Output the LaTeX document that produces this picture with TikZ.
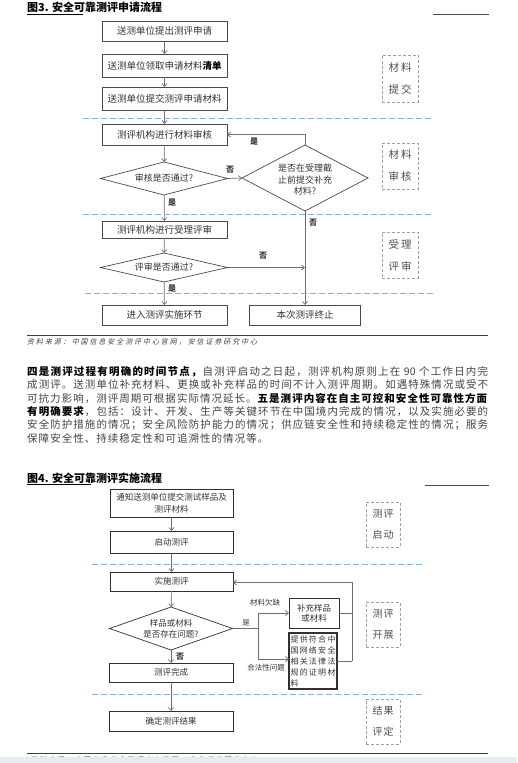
\documentclass[tikz,border=0pt]{standalone}
\usepackage{fontspec}
\setmainfont{Noto Sans CJK SC}
\newfontfamily\srcfont[FakeSlant=0.2]{Noto Sans CJK SC}
\usetikzlibrary{arrows.meta,shapes.geometric}
\definecolor{boxc}{HTML}{4A4A4A}
\definecolor{boxd}{HTML}{303030}
\definecolor{txtc}{HTML}{333333}
\definecolor{arrc}{HTML}{6E6E6E}
\definecolor{bluec}{HTML}{8AAED6}
\definecolor{sidec}{HTML}{A0A0A0}
\definecolor{sidet}{HTML}{505050}
\definecolor{parc}{HTML}{444444}
\definecolor{bandc}{HTML}{E8ECF1}
\makeatletter
\newskip\sprglue
\sprglue=0pt plus 1fil
\def\spr#1{\spr@#1\spr@end}
\def\spr@end{\spr@end}
\def\spr@#1{\ifx\spr@end#1\else#1\hskip\sprglue\expandafter\spr@\fi}
\makeatother
\def\ninety{\ 90\ }
\begin{document}
\begin{tikzpicture}[x=1pt,y=-1pt,
  box/.style={draw=boxc, line width=0.7pt, inner sep=0pt, outer sep=0pt, text=txtc,
    font=\fontsize{9.5}{11}\selectfont, align=center},
  boxb/.style={draw=boxd, line width=0.7pt, inner sep=0pt, outer sep=0pt, text=txtc,
    font=\fontsize{8.5}{11.5}\selectfont, align=center},
  diam/.style={draw=boxc, line width=0.7pt, shape=diamond, inner sep=0pt, outer sep=0pt},
  dtxt/.style={text=txtc, inner sep=0pt, align=center},
  arr/.style={draw=arrc, line width=0.7pt, -{Straight Barb[length=3pt,width=5pt]}},
  ln/.style={draw=arrc, line width=0.7pt},
  sep/.style={draw=bluec, line width=0.8pt, dash pattern=on 6pt off 3pt},
  side/.style={draw=sidec, line width=0.7pt, dash pattern=on 3pt off 2pt, inner sep=0pt,
    text=sidet, align=center},
  lbl/.style={font=\fontsize{8}{9}\selectfont\bfseries, text=txtc, inner sep=0pt},
  lblr/.style={font=\fontsize{7.5}{9}\selectfont, text=txtc, inner sep=0pt},
  par/.style={anchor=west, inner sep=0pt, text=parc, font=\fontsize{10.5}{12}\selectfont},
  ttl/.style={anchor=west, inner sep=0pt, text=black, font=\fontsize{11}{12}\selectfont\bfseries},
  src/.style={anchor=west, inner sep=0pt, text=parc, font=\fontsize{7}{8}\srcfont}
]
\useasboundingbox (0,0) rectangle (517,763);
\fill[white] (0,0) rectangle (517,763);

% ---------- Figure 3 ----------
\node[ttl] (t3) at (27,7) {图3. 安全可靠测评申请流程};
\draw[line width=0.9pt, black] (27,14) -- (83,14);
\draw[line width=0.9pt, black!70] (433,14) -- (489,14);

\node[box, minimum width=125, minimum height=20] (b1) at (164.5,31) {送测单位提出测评申请};
\node[box, minimum width=125, minimum height=23] (b2) at (164.5,65.5) {送测单位领取申请材料\textbf{\color{black}清单}};
\node[box, minimum width=125, minimum height=23] (b3) at (164.5,98.5) {送测单位提交测评申请材料};
\node[box, minimum width=125, minimum height=21] (b4) at (164.5,134.5) {测评机构进行材料审核};
\node[diam, minimum width=127, minimum height=33] (d1) at (164,178.5) {};
\node[dtxt, font=\fontsize{9}{11}\selectfont] (d1t) at (d1) {审核是否通过?};
\node[diam, minimum width=126, minimum height=66] (d2) at (305,178) {};
\node[dtxt, font=\fontsize{9}{11.5}\selectfont] (d2t) at (305,180) {是否在受理截\\止前提交补充\\材料?};
\node[box, minimum width=125, minimum height=17] (b5) at (164.5,229.5) {测评机构进行受理评审};
\node[diam, minimum width=127, minimum height=29] (d3) at (164,267.5) {};
\node[dtxt, font=\fontsize{9}{11}\selectfont] (d3t) at (d3) {评审是否通过?};
\node[box, minimum width=125, minimum height=20] (b6) at (164.5,315) {进入测评实施环节};
\node[box, minimum width=111, minimum height=20] (b7) at (305,315) {本次测评终止};

\draw[arr] (b1) -- (b2);
\draw[arr] (b2) -- (b3);
\draw[arr] (b3) -- (b4);
\draw[arr] (b4) -- (d1);
\draw[arr] (d1) -- (b5);
\draw[arr] (d1.east) -- (d2.west);
\draw[arr] (d2.north) |- (b4.east);
\draw[arr] (d2.south) -- (b7.north);
\draw[arr] (b5) -- (d3);
\draw[arr] (d3.east) -- (d3.east -| b7.north);
\draw[arr] (d3) -- (b6);

\node[lbl] (l1) at (172,203) {是};
\node[lbl] (l2) at (230,170) {否};
\node[lbl] (l3) at (254,142) {是};
\node[lbl] (l4) at (313,223) {否};
\node[lbl] (l5) at (263,256) {否};
\node[lbl] (l6) at (172,289) {是};

\draw[sep] (83,118) -- (432,118);
\draw[sep] (83,214) -- (432,214);
\draw[sep] (85,293) -- (433,293);

\node[side, minimum width=36, minimum height=47, font=\fontsize{10.5}{22}\selectfont] (s1) at (400,78.5) {材\hspace{2pt}料\\提\hspace{2pt}交};
\node[side, minimum width=36, minimum height=46, font=\fontsize{10.5}{22}\selectfont] (s2) at (400,166) {材\hspace{2pt}料\\审\hspace{2pt}核};
\node[side, minimum width=36, minimum height=46, font=\fontsize{10.5}{22}\selectfont] (s3) at (400,255) {受\hspace{2pt}理\\评\hspace{2pt}审};

\draw[line width=0.9pt, black!75] (27,335) -- (488,335);
\node[src] (src3) at (27,341.5) {\hbox to 230pt{\spr{资料来源：中国信息安全测评中心官网，安信证券研究中心}\unskip}};

% ---------- paragraph ----------
\node[par] (p1) at (27,371.7) {\hbox to 461pt{{\bfseries\color{black}\spr{四是测评过程有明确的时间节点，}}\spr{自测评启动之日起，测评机构原则上在\ninety 个工作日内完}\unskip}};
\node[par] (p2) at (27,385) {\hbox to 461pt{\spr{成测评。送测单位补充材料、更换或补充样品的时间不计入测评周期。如遇特殊情况或受不}\unskip}};
\node[par] (p3) at (27,398.3) {\hbox to 461pt{\spr{可抗力影响，测评周期可根据实际情况延长。}{\bfseries\color{black}\spr{五是测评内容在自主可控和安全性可靠性方面}}\unskip}};
\node[par] (p4) at (27,411.7) {\hbox to 461pt{{\bfseries\color{black}\spr{有明确要求}}\spr{，包括：设计、开发、生产等关键环节在中国境内完成的情况，以及实施必要的}\unskip}};
\node[par] (p5) at (27,425) {\hbox to 461pt{\spr{安全防护措施的情况；安全风险防护能力的情况；供应链安全性和持续稳定性的情况；服务}\unskip}};
\node[par] (p6) at (27,438.3) {\sprglue=1.03pt\hbox{\spr{保障安全性、持续稳定性和可追溯性的情况等。}\unskip}};

% ---------- Figure 4 ----------
\node[ttl] (t4) at (27,478) {图4. 安全可靠测评实施流程};
\draw[line width=0.9pt, black] (27,484.5) -- (91,484.5);
\draw[line width=0.9pt, black!70] (425,485) -- (489,485);

\node[boxb, minimum width=123, minimum height=28] (A) at (171.5,503) {通知送测单位提交测试样品及\\测评材料};
\node[boxb, minimum width=123, minimum height=22] (B) at (171.5,542) {启动测评};
\node[boxb, minimum width=123, minimum height=19] (C) at (171.5,581.5) {实施测评};
\node[diam, draw=boxd, minimum width=123, minimum height=43] (D) at (171,628.5) {};
\node[dtxt, font=\fontsize{8.5}{11}\selectfont] (Dt) at (D) {样品或材料\\是否存在问题?};
\node[boxb, minimum width=50, minimum height=30, font=\fontsize{8.5}{10.5}\selectfont] (E) at (314,613) {补充样品\\或材料};
\node[boxb, line width=1.2pt, minimum width=48, minimum height=56, font=\fontsize{8}{11}\selectfont] (F) at (313,661) {\vbox{\baselineskip=11pt
  \hbox to 45pt{\spr{提供符合中}\unskip}
  \hbox to 45pt{\spr{国网络安全}\unskip}
  \hbox to 45pt{\spr{相关法律法}\unskip}
  \hbox to 45pt{\spr{规的证明材}\unskip}
  \hbox to 45pt{料\hfil}}};
\node[boxb, minimum width=124, minimum height=19] (G) at (171,672.5) {测评完成};
\node[boxb, minimum width=124, minimum height=20] (H) at (171,721) {确定测评结果};

\coordinate (j) at (258,628.5);
\coordinate (r) at (352,661);
\draw[arr] (A) -- (B);
\draw[arr] (B) -- (C);
\draw[arr] (C) -- (D);
\draw[arr] (D) -- (G);
\draw[arr] (G) -- (H);
\draw[ln] (D.east) -- (j);
\draw[arr] (j) |- (E.west);
\draw[arr] (j) |- ([yshift=2pt]F.west);
\draw[ln] (E.east) -- (E.east -| r);
\draw[ln] (F.east) -- (r);
\draw[arr] (r) |- ([yshift=-1pt]C.east);

\node[lblr] (m1) at (246,623) {是};
\node[lblr] (m2) at (265,603) {材料欠缺};
\node[lblr] (m3) at (266,668) {合法性问题};
\node[lbl] (m4) at (180,657) {否};

\draw[sep] (92,564) -- (425,564);
\draw[sep] (92,694) -- (425,694);

\node[side, minimum width=34, minimum height=45, font=\fontsize{10}{21}\selectfont] (s4) at (383,524.5) {测\hspace{1pt}评\\启\hspace{1pt}动};
\node[side, minimum width=34, minimum height=45, font=\fontsize{10}{21}\selectfont] (s5) at (383,624.5) {测\hspace{1pt}评\\开\hspace{1pt}展};
\node[side, minimum width=34, minimum height=45, font=\fontsize{10}{21}\selectfont] (s6) at (383,721.5) {结\hspace{1pt}果\\评\hspace{1pt}定};

\draw[line width=0.9pt, black!75] (27,753) -- (488,753);
\node[src] (src4) at (30,759.5) {\hbox to 227pt{\spr{资料来源：中国信息安全测评中心官网，安信证券研究中心}\unskip}};
\fill[bandc] (0,757) rectangle (517,763);
\end{tikzpicture}
\end{document}
